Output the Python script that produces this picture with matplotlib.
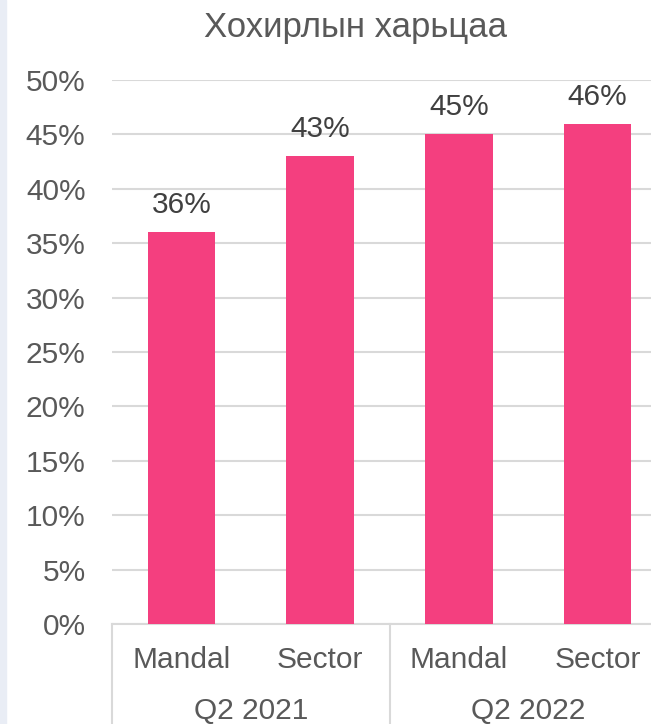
import matplotlib
matplotlib.use("Agg")
import matplotlib.pyplot as plt
from matplotlib.patches import Rectangle
from matplotlib.transforms import blended_transform_factory

title = "Хохирлын харьцаа"
groups = ["Q2 2021", "Q2 2022"]
categories = ["Mandal", "Sector", "Mandal", "Sector"]
values = [36, 43, 45, 46]
labels = ["36%", "43%", "45%", "46%"]
yticks = [0, 5, 10, 15, 20, 25, 30, 35, 40, 45, 50]

plt.rcParams['font.family'] = ['Liberation Sans', 'DejaVu Sans']

W, H = 651, 724
fig = plt.figure(figsize=(W / 100, H / 100), dpi=100)
fig.patches.append(Rectangle((0, 0), 6 / W, 1, transform=fig.transFigure,
                             color='#E9EDF5', zorder=0))

left, right, top, bottom = 112, 667, 80, 624
ax = fig.add_axes([left / W, (H - bottom) / H, (right - left) / W, (bottom - top) / H])

x = list(range(len(categories)))
ax.bar(x, values, width=0.485, color='#F43F7F', zorder=3)
ax.set_xlim(-0.5, len(categories) - 0.5)
ax.set_ylim(0, 50)
ax.set_yticks(yticks)
ax.set_yticklabels([f"{t}%" for t in yticks])
ax.tick_params(axis='y', length=0, pad=19, labelsize=21.5, labelcolor='#595959')
ax.set_xticks(x)
ax.set_xticklabels(categories)
ax.tick_params(axis='x', length=0, pad=16, labelsize=21.5, labelcolor='#595959')
ax.grid(axis='y', color='#D9D9D9', linewidth=1.5, zorder=0)
for s in ['top', 'right', 'left']:
    ax.spines[s].set_visible(False)
ax.spines['bottom'].set_color('#D9D9D9')
ax.spines['bottom'].set_linewidth(1.5)

for xi, v, lab in zip(x, values, labels):
    ax.annotate(lab, (xi, v), xytext=(0, 27), textcoords='offset pixels',
                ha='center', va='center', fontsize=21.5, color='#404040')

# group labels and separators
trans = blended_transform_factory(ax.transData, ax.transAxes)
depth = -100 / (bottom - top)
for sep in [-0.5, 1.5, 3.5]:
    ax.plot([sep, sep], [0, depth], transform=trans, color='#D9D9D9',
            linewidth=1.5, clip_on=False)
for gi, g in enumerate(groups):
    ax.text(gi * 2 + 0.5, -87 / (bottom - top), g, transform=trans,
            ha='center', va='center', fontsize=21.5, color='#595959')

fig.text(355 / W, 1 - 28 / H, title, ha='center', va='center',
         fontsize=25, color='#595959')

fig.savefig("out.png", dpi=100)
